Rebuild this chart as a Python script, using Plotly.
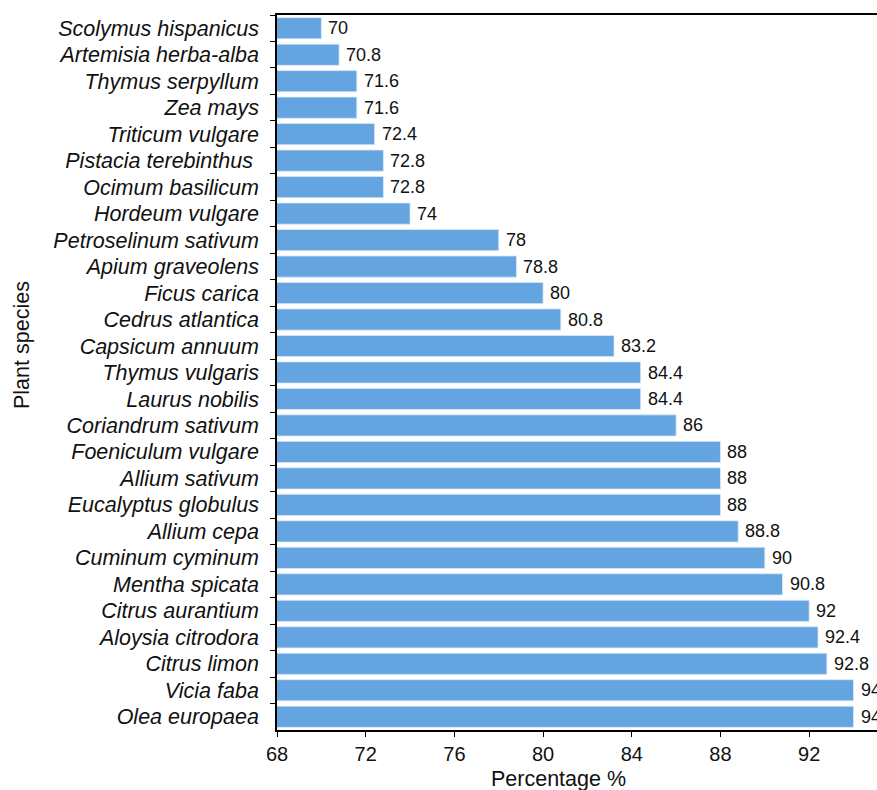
import plotly.graph_objects as go

species = ["Scolymus hispanicus", "Artemisia herba-alba", "Thymus serpyllum", "Zea mays",
           "Triticum vulgare", "Pistacia terebinthus ", "Ocimum basilicum", "Hordeum vulgare",
           "Petroselinum sativum", "Apium graveolens", "Ficus carica", "Cedrus atlantica",
           "Capsicum annuum", "Thymus vulgaris", "Laurus nobilis", "Coriandrum sativum",
           "Foeniculum vulgare", "Allium sativum", "Eucalyptus globulus", "Allium cepa",
           "Cuminum cyminum", "Mentha spicata", "Citrus aurantium", "Aloysia citrodora",
           "Citrus limon", "Vicia faba", "Olea europaea"]
percent = [70, 70.8, 71.6, 71.6, 72.4, 72.8, 72.8, 74, 78, 78.8, 80, 80.8, 83.2, 84.4, 84.4,
           86, 88, 88, 88, 88.8, 90, 90.8, 92, 92.4, 92.8, 94, 94]
x_ticks = [68, 72, 76, 80, 84, 88, 92]

FONT = "Liberation Sans, Arial, sans-serif"
W, H = 877, 790
L, R, T, B = 277, 0, 15, 60

fig = go.Figure(go.Bar(
    x=percent, y=species, orientation="h",
    marker=dict(color="#63A4E1", line=dict(color="#DCE9F5", width=0.8)),
    hoverinfo="x+y",
))

value_labels = [
    dict(x=v, y=s, xref="x", yref="y", text=f"{v:g}", showarrow=False,
         xanchor="left", yanchor="middle", xshift=5,
         font=dict(family=FONT, size=18, color="#111111"))
    for s, v in zip(species, percent)
]

pw, ph = W - L - R, H - T - B
fig.update_layout(
    width=W, height=H,
    margin=dict(l=L, r=R, t=T, b=B, pad=0),
    plot_bgcolor="white", paper_bgcolor="white",
    bargap=0.2, showlegend=False,
    font=dict(family=FONT, color="#111111"),
    xaxis=dict(range=[68, 95.06], tickvals=x_ticks, showgrid=False, zeroline=False,
               showline=True, linecolor="black", linewidth=1.6, mirror=True,
               ticks="outside", ticklen=5, tickcolor="black",
               tickfont=dict(family=FONT, size=20, color="#111111")),
    yaxis=dict(categoryorder="array", categoryarray=species, autorange="reversed",
               showgrid=False, zeroline=False, showline=True, linecolor="black", linewidth=1.6,
               ticks="outside", ticklen=5, tickcolor="black", tickson="boundaries",
               ticklabelstandoff=12,
               tickfont=dict(family=FONT, size=21.5, color="#111111", style="italic")),
    annotations=value_labels + [
        dict(text="Percentage %", xref="paper", yref="paper",
             x=(558 - L) / pw, y=-(779 - (T + ph)) / ph, xanchor="center", yanchor="middle",
             showarrow=False, font=dict(family=FONT, size=21.5, color="#111111")),
        dict(text="Plant species", xref="paper", yref="paper",
             x=-(L - 22) / pw, y=1 - (345 - T) / ph, xanchor="center", yanchor="middle",
             textangle=-90, showarrow=False, font=dict(family=FONT, size=21.5, color="#111111")),
    ],
)

fig.write_html("out.html", config={"displayModeBar": False},
               post_script="document.body.style.margin='0';document.body.style.overflow='hidden';")
